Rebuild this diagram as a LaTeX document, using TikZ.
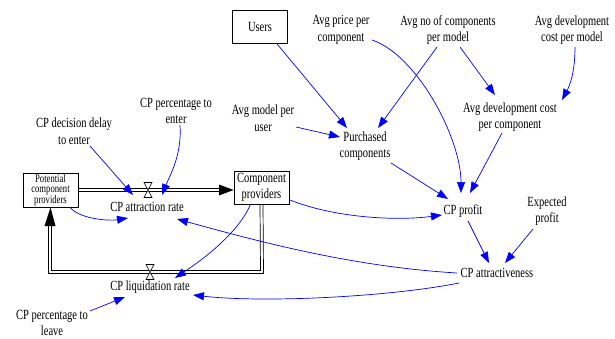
\documentclass[tikz,border=0pt]{standalone}
\usepackage{fontspec}
\setmainfont{Liberation Serif}[FakeStretch=0.75]
\usetikzlibrary{arrows.meta,calc}
\begin{document}
\begin{tikzpicture}[x=1pt,y=-1pt,
  lab/.style={align=center,font=\fontsize{14}{16.5}\selectfont,inner sep=1pt},
  stock/.style={draw,line width=0.8pt,align=center,font=\fontsize{14}{16.5}\selectfont,minimum width=55pt,minimum height=33pt,inner sep=1pt},
  link/.style={blue,line width=0.7pt,-{Triangle[length=11pt,width=8pt]}},
  pipe/.style={line width=0.7pt},
  valve/.style={draw,fill=white,line width=0.6pt},
]
\useasboundingbox (0,0) rectangle (615,339);
% stocks
\node[stock] (users) at (260,27) {Users};
\node[stock,minimum height=34pt,inner sep=0pt,font=\fontsize{11.5}{10.6}\selectfont] (pot) at (50.5,190) {Potential\\component\\providers};
\node[stock] (cp) at (261.5,187.5) {Component\\providers};
% variables
\node[lab] (price) at (341,30) {Avg price per\\component};
\node[lab] (avgno) at (448,30) {Avg no of components\\per model};
\node[lab] (devmodel) at (572,30) {Avg development\\cost per model};
\node[lab] (modeluser) at (263,118) {Avg model per\\user};
\node[lab] (purch) at (365,146) {Purchased\\components};
\node[lab] (devcomp) at (510,117) {Avg development cost\\per component};
\node[lab] (profit) at (463,211) {CP profit};
\node[lab] (expected) at (547,211) {Expected\\profit};
\node[lab] (att) at (497,273) {CP attractiveness};
\node[lab] (attr) at (147,207) {CP attraction rate};
\node[lab] (liq) at (150,287) {CP liquidation rate};
\node[lab] (pctleave) at (52,323) {CP percentage to\\leave};
\node[lab] (delay) at (74,131) {CP decision delay\\to enter};
\node[lab] (pctenter) at (176,111) {CP percentage to\\enter};
% valves and pipe corners
\coordinate (v1) at (148,190);
\coordinate (v2) at (150,272);
\coordinate (h1) at (219,190);
\coordinate (h2) at (50,226);
% top pipe (two parallel lines)
\draw[pipe] ([yshift=1.5pt]pot.east) -- ([yshift=1.5pt]h1);
\draw[pipe] ([yshift=-1.5pt]pot.east) -- ([yshift=-1.5pt]h1);
\fill (h1) ++(0,-5.5) -- (cp.west |- h1) -- ($(h1)+(0,5.5)$) -- cycle;
% bottom pipe (two parallel lines)
\draw[pipe] ([xshift=-1.5pt]cp.south) -- (260.5,270.5) -- (51.5,270.5) -- ([xshift=1.5pt]h2);
\draw[pipe] ([xshift=1.5pt]cp.south) -- (263.5,273.5) -- (48.5,273.5) -- ([xshift=-1.5pt]h2);
\fill (h2) ++(-5.5,0) -- (pot.south) -- ($(h2)+(5.5,0)$) -- cycle;
\draw[valve] ($(v1)+(-4,-7.5)$) -- ($(v1)+(4,-7.5)$) -- ($(v1)+(-4,7.5)$) -- ($(v1)+(4,7.5)$) -- cycle;
\draw[valve] ($(v2)+(-4,-7.5)$) -- ($(v2)+(4,-7.5)$) -- ($(v2)+(-4,7.5)$) -- ($(v2)+(4,7.5)$) -- cycle;
% links
\draw[link] ([xshift=16pt,yshift=-15pt]delay.center) -- ([xshift=-14pt,yshift=12pt]attr.center);
\draw[link] ([xshift=4pt]pctenter.south) .. controls +(2,30) and +(8,-20) .. ([xshift=15pt,yshift=12pt]attr.center);
\draw[link] ([xshift=19.5pt]pot.south) .. controls +(10,12) and +(-18,3) .. ([xshift=-19pt,yshift=-11pt]attr.center);
\draw[link] ([xshift=-11pt]cp.south) .. controls +(-12,28) and +(30,-20) .. ([xshift=25pt,yshift=9pt]liq.center);
\draw[link] ([xshift=-40pt]att.center) .. controls +(-100,-6) and +(90,25) .. ([xshift=30pt,yshift=-12pt]attr.center);
\draw[link] ([xshift=-38pt,yshift=-10pt]att.center) .. controls +(-70,14) and +(70,8) .. ([xshift=43pt,yshift=-8pt]liq.center);
\draw[link] ([xshift=38pt,yshift=12pt]pctleave.center) -- ([xshift=-25pt,yshift=-10pt]liq.center);
\draw[link] ([xshift=17pt]users.south) -- ([xshift=-18pt,yshift=18pt]purch.center);
\draw[link] ([xshift=33pt,yshift=-9pt]modeluser.center) -- ([xshift=-25pt,yshift=9pt]purch.center);
\draw[link] ([xshift=-11pt,yshift=-17pt]avgno.center) -- ([xshift=13pt,yshift=18pt]purch.center);
\draw[link] ([xshift=12pt,yshift=-17pt]avgno.center) -- ([xshift=-15pt,yshift=22pt]devcomp.center);
\draw[link] ([xshift=3pt,yshift=-17pt]devmodel.center) .. controls +(0,25) and +(8,-15) .. ([xshift=52pt,yshift=17pt]devcomp.center);
\draw[link] ([xshift=31pt,yshift=-10pt]price.center) .. controls +(45,15) and +(0,-55) .. ([xshift=-2pt,yshift=18pt]profit.center);
\draw[link] ([xshift=-8pt,yshift=-16pt]devcomp.center) -- ([xshift=7pt,yshift=18pt]profit.center);
\draw[link] ([xshift=26pt,yshift=-17pt]purch.center) -- ([xshift=-15pt,yshift=12pt]profit.center);
\draw[link] ([xshift=28.5pt,yshift=-12.5pt]cp.center) .. controls +(45,18) and +(-45,6) .. ([xshift=-21pt,yshift=-4pt]profit.center);
\draw[link] ([xshift=5pt,yshift=-10pt]profit.center) -- ([xshift=-8pt,yshift=10pt]att.center);
\draw[link] ([xshift=-14pt,yshift=-18pt]expected.center) -- ([xshift=8pt,yshift=10pt]att.center);
\end{tikzpicture}
\end{document}
